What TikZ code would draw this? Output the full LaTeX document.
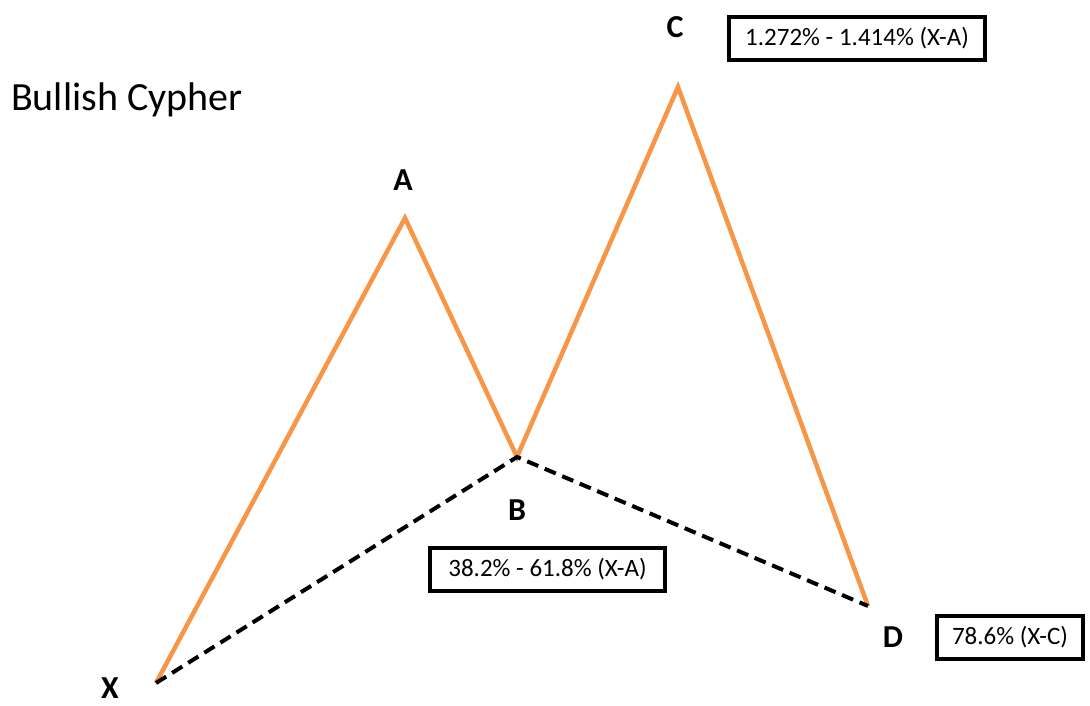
\documentclass[tikz,border=0pt]{standalone}
\usepackage{fontspec}
\setmainfont{Carlito}
\usepackage{xcolor}
\definecolor{legorange}{HTML}{F79646}
\usetikzlibrary{positioning}

\begin{document}
\begin{tikzpicture}[x=1pt,y=-1pt,
  leg/.style={draw=legorange,line width=4.5pt,line join=miter},
  baseline/.style={draw=black,line width=4pt,dash pattern=on 12pt off 7pt},
  ptlabel/.style={font=\bfseries\fontsize{32}{32}\selectfont,inner sep=0pt},
  ratiobox/.style={draw=black,line width=4pt,inner sep=0pt,minimum height=43pt,
    font=\fontsize{25}{25}\selectfont}]
\useasboundingbox (0,0) rectangle (1090,706);
% swing points
\coordinate (X) at (156,683);
\coordinate (A) at (405,218);
\coordinate (B) at (517,457);
\coordinate (C) at (678,87);
\coordinate (D) at (868,606);
% legs and base line
\draw[leg] (X) -- (A) -- (B) -- (C) -- (D);
\draw[baseline] (X) -- (B) -- (D);
% point letters
\foreach \p/\x/\y in {X/110/688,A/403/180,B/517/510,C/675/27,D/893/637}{
  \node[ptlabel] (lbl\p) at (\x,\y) {\p};
}
% ratios
\node[ratiobox,minimum width=256pt] (ratioC) at (857,38.5) {1.272\% - 1.414\% (X-A)};
\node[ratiobox,minimum width=235pt] (ratioB) at (547.5,569) {38.2\% - 61.8\% (X-A)};
\node[ratiobox,minimum width=146pt] (ratioD) at (1010,637) {78.6\% (X-C)};
\node[anchor=west,inner sep=0pt,font=\fontsize{40}{40}\selectfont] (title) at (11,100) {Bullish Cypher};
\end{tikzpicture}
\end{document}
